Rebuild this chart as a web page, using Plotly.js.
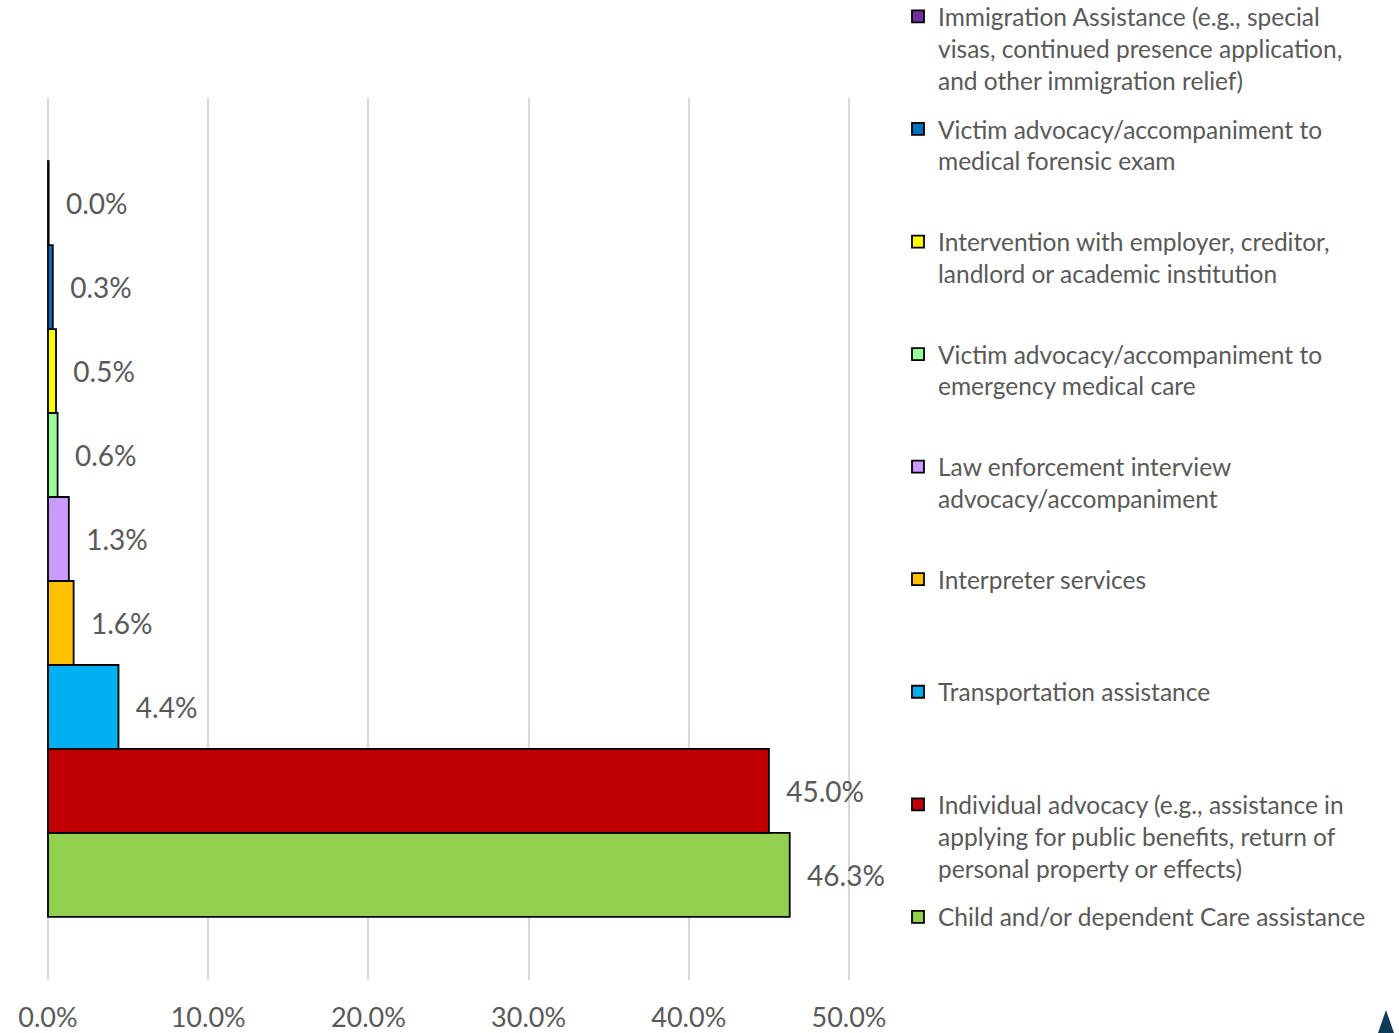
<!DOCTYPE html>
<html>
<head>
<meta charset="utf-8">
<script src="https://cdn.plot.ly/plotly-3.0.1.min.js"></script>
<style>html,body{margin:0;padding:0;background:#fff;}#chart{width:1399px;height:1033px;}</style>
</head>
<body>
<div id="chart"></div>
<script>
// Series listed from bottom bar to top bar
const seriesNames = [
  "Child and/or dependent Care assistance",
  "Individual advocacy (e.g., assistance in<br>applying for public benefits, return of<br>personal property or effects)",
  "Transportation assistance",
  "Interpreter services",
  "Law enforcement interview<br>advocacy/accompaniment",
  "Victim advocacy/accompaniment to<br>emergency medical care",
  "Intervention with employer, creditor,<br>landlord or academic institution",
  "Victim advocacy/accompaniment to<br>medical forensic exam",
  "Immigration Assistance (e.g., special<br>visas, continued presence application,<br>and other immigration relief)"
];
const seriesValues = [46.3, 45.0, 4.4, 1.6, 1.3, 0.6, 0.5, 0.3, 0.04];
const seriesColors = ["#92D050", "#C00000", "#00B0F0", "#FFC000", "#CC99FF", "#99FF99", "#FFFF00", "#0070C0", "#7030A0"];
const xTickValues = [0, 10, 20, 30, 40, 50];
const xTickLabels = ["0.0%", "10.0%", "20.0%", "30.0%", "40.0%", "50.0%"];

const FONT = "Lato, 'Open Sans', sans-serif";
const GREY = "#595959";

function padLines(s) {
  const n = s.split("<br>").length;
  let out = s;
  for (let i = n; i < 3; i++) out += "<br>\u00a0";
  return out;
}

const traces = seriesNames.map((name, i) => ({
  type: "bar",
  orientation: "h",
  name: padLines(name),
  legendgroup: "g" + i,
  legendrank: 100 - i,
  x: [seriesValues[i]],
  y: ["all"],
  marker: { color: seriesColors[i], line: { color: "#000000", width: 1.8 } },
  texttemplate: "\u00a0\u00a0%{x:.1f}%",
  textposition: "outside",
  cliponaxis: false,
  textfont: { family: FONT, size: 28, color: GREY },
  hoverinfo: "name+x"
}));

const layout = {
  width: 1399,
  height: 1033,
  paper_bgcolor: "#ffffff",
  plot_bgcolor: "#ffffff",
  margin: { l: 46, r: 548, t: 98, b: 53, autoexpand: false },
  barmode: "group",
  bargap: 0.143,
  bargroupgap: 0,
  showlegend: true,
  legend: {
    xref: "container", yref: "paper",
    x: 898 / 1399, y: (980 + 6) / 882, xanchor: "left", yanchor: "top",
    traceorder: "grouped",
    tracegroupgap: 14,
    valign: "top",
    maxheight: 1100,
    font: { family: FONT, size: 24.5, color: GREY },
    bgcolor: "rgba(0,0,0,0)"
  },
  xaxis: {
    range: [-0.125, 50.125],
    tickvals: xTickValues,
    ticktext: xTickLabels,
    showgrid: true,
    gridcolor: "#d9d9d9",
    gridwidth: 2,
    zeroline: false,
    showline: false,
    ticks: "",
    ticklabelstandoff: 19,
    tickfont: { family: FONT, size: 27, color: GREY },
    fixedrange: true
  },
  yaxis: {
    showticklabels: false,
    showgrid: false,
    zeroline: false,
    showline: false,
    ticks: "",
    fixedrange: true
  },
  shapes: [{
    type: "path",
    xref: "paper", yref: "paper",
    path: "M " + ((1386 - 46) / 805) + " " + ((980 - 1010) / 882) +
          " L " + ((1394 - 46) / 805) + " " + ((980 - 1033) / 882) +
          " L " + ((1378 - 46) / 805) + " " + ((980 - 1033) / 882) + " Z",
    fillcolor: "#103b56",
    line: { width: 0 },
    layer: "above"
  }]
};

Plotly.newPlot("chart", traces, layout, { displayModeBar: false, staticPlot: true });
</script>
</body>
</html>
